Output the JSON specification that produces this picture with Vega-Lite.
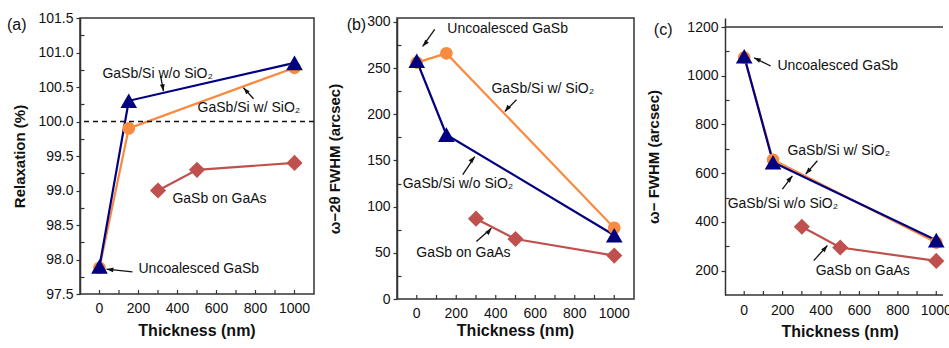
{
  "$schema": "https://vega.github.io/schema/vega-lite/v6.json",
  "background": "white",
  "padding": {"left": 6, "top": 10, "right": 0, "bottom": 0},
  "config": {
    "font": "Liberation Sans",
    "view": {"stroke": null},
    "axis": {
      "labelFont": "Liberation Sans", "labelFontSize": 14, "labelColor": "#111",
      "titleFont": "Liberation Sans", "titleFontSize": 15, "titleFontWeight": "bold", "titleColor": "#111",
      "grid": false, "domainColor": "#333", "domainWidth": 1.5, "tickColor": "#333", "tickWidth": 1.2,
      "labelOverlap": false
    }
  },
  "datasets": {
    "xticks": [
      {"t": 0}, {"t": 100}, {"t": 200}, {"t": 300}, {"t": 400}, {"t": 500},
      {"t": 600}, {"t": 700}, {"t": 800}, {"t": 900}, {"t": 1000}
    ],
    "relax": [
      {"t": 0, "v": 97.88, "s": "GaSb/Si w/ SiO2"}, {"t": 150, "v": 99.9, "s": "GaSb/Si w/ SiO2"}, {"t": 1000, "v": 100.78, "s": "GaSb/Si w/ SiO2"},
      {"t": 0, "v": 97.9, "s": "GaSb/Si w/o SiO2"}, {"t": 150, "v": 100.3, "s": "GaSb/Si w/o SiO2"}, {"t": 1000, "v": 100.85, "s": "GaSb/Si w/o SiO2"},
      {"t": 300, "v": 99.0, "s": "GaSb on GaAs"}, {"t": 500, "v": 99.3, "s": "GaSb on GaAs"}, {"t": 1000, "v": 99.4, "s": "GaSb on GaAs"}
    ],
    "fwhm2t": [
      {"t": 0, "v": 256, "s": "GaSb/Si w/ SiO2"}, {"t": 150, "v": 266, "s": "GaSb/Si w/ SiO2"}, {"t": 1000, "v": 77, "s": "GaSb/Si w/ SiO2"},
      {"t": 0, "v": 258, "s": "GaSb/Si w/o SiO2"}, {"t": 150, "v": 178, "s": "GaSb/Si w/o SiO2"}, {"t": 1000, "v": 69, "s": "GaSb/Si w/o SiO2"},
      {"t": 300, "v": 87, "s": "GaSb on GaAs"}, {"t": 500, "v": 65, "s": "GaSb on GaAs"}, {"t": 1000, "v": 47, "s": "GaSb on GaAs"}
    ],
    "fwhmw": [
      {"t": 0, "v": 1075, "s": "GaSb/Si w/ SiO2"}, {"t": 150, "v": 655, "s": "GaSb/Si w/ SiO2"}, {"t": 1000, "v": 315, "s": "GaSb/Si w/ SiO2"},
      {"t": 0, "v": 1080, "s": "GaSb/Si w/o SiO2"}, {"t": 150, "v": 645, "s": "GaSb/Si w/o SiO2"}, {"t": 1000, "v": 325, "s": "GaSb/Si w/o SiO2"},
      {"t": 300, "v": 380, "s": "GaSb on GaAs"}, {"t": 500, "v": 295, "s": "GaSb on GaAs"}, {"t": 1000, "v": 240, "s": "GaSb on GaAs"}
    ],
    "labelsA": [
      {"t": 15, "v": 100.69, "label": "GaSb/Si w/o SiO₂"},
      {"t": 503, "v": 100.2, "label": "GaSb/Si w/ SiO₂"},
      {"t": 374, "v": 98.88, "label": "GaSb on GaAs"},
      {"t": 200, "v": 97.86, "label": "Uncoalesced GaSb"}
    ],
    "arrowsA": [
      {"t": 313, "v": 100.66, "t2": 328, "v2": 100.44, "head": "d"},
      {"t": 790, "v": 100.33, "t2": 738, "v2": 100.49, "head": "ul"},
      {"t": 169, "v": 97.82, "t2": 36, "v2": 97.86, "head": "l"}
    ],
    "labelsB": [
      {"t": 155, "v": 292, "label": "Uncoalesced GaSb"},
      {"t": 378, "v": 227.4, "label": "GaSb/Si w/ SiO₂"},
      {"t": -71, "v": 124.2, "label": "GaSb/Si w/o SiO₂"},
      {"t": -2, "v": 50.1, "label": "GaSb on GaAs"}
    ],
    "arrowsB": [
      {"t": 91, "v": 292, "t2": 30, "v2": 273.5, "head": "dl"},
      {"t": 505, "v": 215.7, "t2": 446, "v2": 203, "head": "dl"},
      {"t": 233, "v": 134.8, "t2": 294, "v2": 154.3, "head": "ur"},
      {"t": 302, "v": 62.3, "t2": 378, "v2": 76.7, "head": "ur"}
    ],
    "labelsC": [
      {"t": 173, "v": 1040, "label": "Uncoalesced GaSb"},
      {"t": 225, "v": 692, "label": "GaSb/Si w/ SiO₂"},
      {"t": -86, "v": 473, "label": "GaSb/Si w/o SiO₂"},
      {"t": 372, "v": 200, "label": "GaSb on GaAs"}
    ],
    "arrowsC": [
      {"t": 138, "v": 1040, "t2": 51, "v2": 1074, "head": "ul2"},
      {"t": 381, "v": 651, "t2": 320, "v2": 596, "head": "dl"},
      {"t": 199, "v": 535, "t2": 251, "v2": 589, "head": "ur"},
      {"t": 362, "v": 241, "t2": 433, "v2": 303, "head": "ur"}
    ]
  },
  "spacing": 10,
  "hconcat": [
    {
      "width": 234, "height": 276,
      "view": {"stroke": "#333", "strokeWidth": 1.5},
      "title": {"text": "(a)", "anchor": "start", "frame": "bounds", "orient": "top", "offset": -35, "dx": -6, "baseline": "alphabetic", "fontSize": 16, "fontWeight": "normal", "font": "Liberation Sans", "color": "#111"},
      "resolve": {"axis": {"y": "independent"}},
      "layer": [
        {"data": {"name": "relax"}, "mark": {"type": "line", "strokeWidth": 2.2},
         "encoding": {
           "x": {"field": "t", "type": "quantitative", "scale": {"domain": [-100, 1100], "nice": false}, "axis": null},
           "y": {"field": "v", "type": "quantitative", "scale": {"domain": [97.5, 101.5], "nice": false},
                 "axis": {"title": "Relaxation (%)", "orient": "left", "values": [97.5,98,98.5,99,99.5,100,100.5,101,101.5], "format": ".1f", "labelOverlap": false, "tickSize": 4, "labelPadding": 3, "titlePadding": 10}},
           "color": {"field": "s", "type": "nominal", "scale": {"domain": ["GaSb/Si w/ SiO2", "GaSb/Si w/o SiO2", "GaSb on GaAs"], "range": ["#F98B40", "#000080", "#C0504D"]}, "legend": null}
         }},
        {"data": {"name": "relax"}, "mark": {"type": "point", "filled": true, "opacity": 1, "size": 289, "strokeWidth": 0},
         "encoding": {
           "x": {"field": "t", "type": "quantitative", "axis": null},
           "y": {"field": "v", "type": "quantitative",
                 "axis": {"orient": "left", "title": null, "values": [97.75,98.25,98.75,99.25,99.75,100.25,100.75,101.25], "labels": false, "domain": false, "tickSize": -4}},
           "color": {"field": "s", "type": "nominal", "legend": null},
           "shape": {"field": "s", "type": "nominal", "scale": {"domain": ["GaSb/Si w/ SiO2", "GaSb/Si w/o SiO2", "GaSb on GaAs"], "range": ["M-0.74,0A0.74,0.74,0,1,0,0.74,0A0.74,0.74,0,1,0,-0.74,0Z", "M0,-0.86L0.98,0.86L-0.98,0.86Z", "M0,-0.95L0.95,0L0,0.95L-0.95,0Z"]}, "legend": null}
         }},
        {"data": {"values": [{}]}, "mark": {"type": "rule", "strokeDash": [5, 4], "color": "#111", "strokeWidth": 1.5},
         "encoding": {"y": {"datum": 100, "type": "quantitative", "axis": null}}},
        {"data": {"name": "xticks"}, "mark": {"type": "tick", "orient": "vertical", "size": 4, "thickness": 1.2, "color": "#333", "opacity": 1, "yOffset": -2},
         "encoding": {"x": {"field": "t", "type": "quantitative", "axis": null}, "y": {"datum": 97.5, "type": "quantitative", "axis": null}}},
        {"data": {"name": "xticks"}, "transform": [{"filter": "datum.t % 200 === 0"}],
         "mark": {"type": "text", "dy": 15, "fontSize": 14, "font": "Liberation Sans", "color": "#111", "align": "center", "baseline": "middle"},
         "encoding": {"x": {"field": "t", "type": "quantitative", "axis": null}, "y": {"datum": 97.5, "type": "quantitative", "axis": null}, "text": {"field": "t", "type": "quantitative", "format": "d"}}},
        {"data": {"name": "xticks"}, "transform": [{"filter": "datum.t === 500"}],
         "mark": {"type": "text", "text": "Thickness (nm)", "dy": 37, "fontSize": 16, "fontWeight": "bold", "font": "Liberation Sans", "color": "#111", "align": "center", "baseline": "middle"},
         "encoding": {"x": {"field": "t", "type": "quantitative", "axis": null}, "y": {"datum": 97.5, "type": "quantitative", "axis": null}}},
        {"data": {"name": "labelsA"}, "mark": {"type": "text", "align": "left", "baseline": "middle", "fontSize": 14, "font": "Liberation Sans", "color": "#111"},
         "encoding": {
           "x": {"field": "t", "type": "quantitative", "axis": null},
           "y": {"field": "v", "type": "quantitative", "axis": null},
           "text": {"field": "label"}
         }},
        {"data": {"name": "arrowsA"}, "mark": {"type": "rule", "color": "#111", "strokeWidth": 1.3},
         "encoding": {
           "x": {"field": "t", "type": "quantitative", "axis": null},
           "y": {"field": "v", "type": "quantitative", "axis": null},
           "x2": {"field": "t2"}, "y2": {"field": "v2"}
         }},
        {"data": {"name": "arrowsA"}, "transform": [{"filter": "datum.head === 'd'"}],
         "mark": {"type": "point", "filled": true, "opacity": 1, "color": "#111", "size": 110, "strokeWidth": 0, "shape": "M0,0L0.22,-1.36L-0.67,-1.2Z"},
         "encoding": {"x": {"field": "t2", "type": "quantitative", "axis": null}, "y": {"field": "v2", "type": "quantitative", "axis": null}}},
        {"data": {"name": "arrowsA"}, "transform": [{"filter": "datum.head === 'ul'"}],
         "mark": {"type": "point", "filled": true, "opacity": 1, "color": "#111", "size": 110, "strokeWidth": 0, "shape": "M0,0L0.54,1.27L1.2,0.67Z"},
         "encoding": {"x": {"field": "t2", "type": "quantitative", "axis": null}, "y": {"field": "v2", "type": "quantitative", "axis": null}}},
        {"data": {"name": "arrowsA"}, "transform": [{"filter": "datum.head === 'l'"}],
         "mark": {"type": "point", "filled": true, "opacity": 1, "color": "#111", "size": 110, "strokeWidth": 0, "shape": "M0,0L1.25,0.58L1.34,-0.31Z"},
         "encoding": {"x": {"field": "t2", "type": "quantitative", "axis": null}, "y": {"field": "v2", "type": "quantitative", "axis": null}}}
      ]
    },
    {
      "spacing": 11,
      "hconcat": [
        {
          "width": 237, "height": 281,
          "view": {"stroke": "#333", "strokeWidth": 1.5},
          "title": {"text": "(b)", "anchor": "start", "frame": "bounds", "orient": "top", "offset": -31.5, "dx": 19, "baseline": "alphabetic", "fontSize": 16, "fontWeight": "normal", "font": "Liberation Sans", "color": "#111"},
          "resolve": {"axis": {"y": "independent"}},
          "layer": [
            {"data": {"name": "fwhm2t"}, "mark": {"type": "line", "strokeWidth": 2.2},
             "encoding": {
               "x": {"field": "t", "type": "quantitative", "scale": {"domain": [-100, 1100], "nice": false}, "axis": null},
               "y": {"field": "v", "type": "quantitative", "scale": {"domain": [0, 304.3], "nice": false},
                     "axis": {"title": "ω−2θ FWHM (arcsec)", "orient": "left", "values": [0,50,100,150,200,250,300], "format": "d", "labelOverlap": false, "tickSize": 4, "labelPadding": 3, "titlePadding": 24}},
               "color": {"field": "s", "type": "nominal", "scale": {"domain": ["GaSb/Si w/ SiO2", "GaSb/Si w/o SiO2", "GaSb on GaAs"], "range": ["#F98B40", "#000080", "#C0504D"]}, "legend": null}
             }},
            {"data": {"name": "fwhm2t"}, "mark": {"type": "point", "filled": true, "opacity": 1, "size": 289, "strokeWidth": 0},
             "encoding": {
               "x": {"field": "t", "type": "quantitative", "axis": null},
               "y": {"field": "v", "type": "quantitative",
                     "axis": {"orient": "left", "title": null, "values": [25,75,125,175,225,275], "labels": false, "domain": false, "tickSize": -4}},
               "color": {"field": "s", "type": "nominal", "legend": null},
               "shape": {"field": "s", "type": "nominal", "scale": {"domain": ["GaSb/Si w/ SiO2", "GaSb/Si w/o SiO2", "GaSb on GaAs"], "range": ["M-0.74,0A0.74,0.74,0,1,0,0.74,0A0.74,0.74,0,1,0,-0.74,0Z", "M0,-0.86L0.98,0.86L-0.98,0.86Z", "M0,-0.95L0.95,0L0,0.95L-0.95,0Z"]}, "legend": null}
             }},
            {"data": {"name": "xticks"}, "mark": {"type": "tick", "orient": "vertical", "size": 4, "thickness": 1.2, "color": "#333", "opacity": 1, "yOffset": -2},
             "encoding": {"x": {"field": "t", "type": "quantitative", "axis": null}, "y": {"datum": 0, "type": "quantitative", "axis": null}}},
            {"data": {"name": "xticks"}, "transform": [{"filter": "datum.t % 200 === 0"}],
             "mark": {"type": "text", "dy": 15, "fontSize": 14, "font": "Liberation Sans", "color": "#111", "align": "center", "baseline": "middle"},
             "encoding": {"x": {"field": "t", "type": "quantitative", "axis": null}, "y": {"datum": 0, "type": "quantitative", "axis": null}, "text": {"field": "t", "type": "quantitative", "format": "d"}}},
            {"data": {"name": "xticks"}, "transform": [{"filter": "datum.t === 500"}],
             "mark": {"type": "text", "text": "Thickness (nm)", "dy": 32, "fontSize": 16, "fontWeight": "bold", "font": "Liberation Sans", "color": "#111", "align": "center", "baseline": "middle"},
             "encoding": {"x": {"field": "t", "type": "quantitative", "axis": null}, "y": {"datum": 0, "type": "quantitative", "axis": null}}},
            {"data": {"name": "labelsB"}, "mark": {"type": "text", "align": "left", "baseline": "middle", "fontSize": 14, "font": "Liberation Sans", "color": "#111"},
             "encoding": {"x": {"field": "t", "type": "quantitative", "axis": null}, "y": {"field": "v", "type": "quantitative", "axis": null}, "text": {"field": "label"}}},
            {"data": {"name": "arrowsB"}, "mark": {"type": "rule", "color": "#111", "strokeWidth": 1.3},
             "encoding": {"x": {"field": "t", "type": "quantitative", "axis": null}, "y": {"field": "v", "type": "quantitative", "axis": null}, "x2": {"field": "t2"}, "y2": {"field": "v2"}}},
            {"data": {"name": "arrowsB"}, "transform": [{"filter": "datum.head === 'dl'"}],
             "mark": {"type": "point", "filled": true, "opacity": 1, "color": "#111", "size": 110, "strokeWidth": 0, "shape": "M0,0L1.18,-0.71L0.49,-1.29Z"},
             "encoding": {"x": {"field": "t2", "type": "quantitative", "axis": null}, "y": {"field": "v2", "type": "quantitative", "axis": null}}},
            {"data": {"name": "arrowsB"}, "transform": [{"filter": "datum.head === 'ur'"}],
             "mark": {"type": "point", "filled": true, "opacity": 1, "color": "#111", "size": 110, "strokeWidth": 0, "shape": "M0,0L-1.18,0.71L-0.49,1.29Z"},
             "encoding": {"x": {"field": "t2", "type": "quantitative", "axis": null}, "y": {"field": "v2", "type": "quantitative", "axis": null}}}
          ]
        },
        {
          "width": 218, "height": 277,
          "title": {"text": "(c)", "anchor": "start", "frame": "bounds", "orient": "top", "offset": -32.5, "dx": 7, "baseline": "alphabetic", "fontSize": 16, "fontWeight": "normal", "font": "Liberation Sans", "color": "#111"},
          "resolve": {"axis": {"y": "independent"}},
          "layer": [
            {"data": {"name": "fwhmw"}, "mark": {"type": "line", "strokeWidth": 2.2},
             "encoding": {
               "x": {"field": "t", "type": "quantitative", "scale": {"domain": [-100, 1035], "nice": false}, "axis": null},
               "y": {"field": "v", "type": "quantitative", "scale": {"domain": [100, 1237], "nice": false},
                     "axis": {"title": "ω− FWHM (arcsec)", "orient": "left", "values": [200,400,600,800,1000,1200], "format": "d", "labelOverlap": false, "tickSize": 4, "labelPadding": 3, "titlePadding": 25}},
               "color": {"field": "s", "type": "nominal", "scale": {"domain": ["GaSb/Si w/ SiO2", "GaSb/Si w/o SiO2", "GaSb on GaAs"], "range": ["#F98B40", "#000080", "#C0504D"]}, "legend": null}
             }},
            {"data": {"name": "fwhmw"}, "mark": {"type": "point", "filled": true, "opacity": 1, "size": 289, "strokeWidth": 0},
             "encoding": {
               "x": {"field": "t", "type": "quantitative", "axis": null},
               "y": {"field": "v", "type": "quantitative",
                     "axis": {"orient": "left", "title": null, "values": [300,500,700,900,1100], "labels": false, "domain": false, "tickSize": -4}},
               "color": {"field": "s", "type": "nominal", "legend": null},
               "shape": {"field": "s", "type": "nominal", "scale": {"domain": ["GaSb/Si w/ SiO2", "GaSb/Si w/o SiO2", "GaSb on GaAs"], "range": ["M-0.74,0A0.74,0.74,0,1,0,0.74,0A0.74,0.74,0,1,0,-0.74,0Z", "M0,-0.86L0.98,0.86L-0.98,0.86Z", "M0,-0.95L0.95,0L0,0.95L-0.95,0Z"]}, "legend": null}
             }},
            {"data": {"values": [{}]}, "mark": {"type": "rule", "color": "#333", "strokeWidth": 1.5},
             "encoding": {"y": {"datum": 1200, "type": "quantitative", "axis": null}}},
            {"data": {"values": [{}]}, "mark": {"type": "rule", "color": "#333", "strokeWidth": 1.5},
             "encoding": {"y": {"datum": 100, "type": "quantitative", "axis": null}}},
            {"data": {"name": "xticks"}, "mark": {"type": "tick", "orient": "vertical", "size": 4, "thickness": 1.2, "color": "#333", "opacity": 1, "yOffset": -2},
             "encoding": {"x": {"field": "t", "type": "quantitative", "axis": null}, "y": {"datum": 100, "type": "quantitative", "axis": null}}},
            {"data": {"name": "xticks"}, "transform": [{"filter": "datum.t % 200 === 0"}],
             "mark": {"type": "text", "dy": 16, "fontSize": 14, "font": "Liberation Sans", "color": "#111", "align": "center", "baseline": "middle"},
             "encoding": {"x": {"field": "t", "type": "quantitative", "axis": null}, "y": {"datum": 100, "type": "quantitative", "axis": null}, "text": {"field": "t", "type": "quantitative", "format": "d"}}},
            {"data": {"name": "xticks"}, "transform": [{"filter": "datum.t === 500"}],
             "mark": {"type": "text", "text": "Thickness (nm)", "dy": 37, "fontSize": 16, "fontWeight": "bold", "font": "Liberation Sans", "color": "#111", "align": "center", "baseline": "middle"},
             "encoding": {"x": {"field": "t", "type": "quantitative", "axis": null}, "y": {"datum": 100, "type": "quantitative", "axis": null}}},
            {"data": {"name": "labelsC"}, "mark": {"type": "text", "align": "left", "baseline": "middle", "fontSize": 14, "font": "Liberation Sans", "color": "#111"},
             "encoding": {"x": {"field": "t", "type": "quantitative", "axis": null}, "y": {"field": "v", "type": "quantitative", "axis": null}, "text": {"field": "label"}}},
            {"data": {"name": "arrowsC"}, "mark": {"type": "rule", "color": "#111", "strokeWidth": 1.3},
             "encoding": {"x": {"field": "t", "type": "quantitative", "axis": null}, "y": {"field": "v", "type": "quantitative", "axis": null}, "x2": {"field": "t2"}, "y2": {"field": "v2"}}},
            {"data": {"name": "arrowsC"}, "transform": [{"filter": "datum.head === 'ul2'"}],
             "mark": {"type": "point", "filled": true, "opacity": 1, "color": "#111", "size": 110, "strokeWidth": 0, "shape": "M0,0L0.97,0.98L1.37,0.17Z"},
             "encoding": {"x": {"field": "t2", "type": "quantitative", "axis": null}, "y": {"field": "v2", "type": "quantitative", "axis": null}}},
            {"data": {"name": "arrowsC"}, "transform": [{"filter": "datum.head === 'dl'"}],
             "mark": {"type": "point", "filled": true, "opacity": 1, "color": "#111", "size": 110, "strokeWidth": 0, "shape": "M0,0L1.18,-0.71L0.49,-1.29Z"},
             "encoding": {"x": {"field": "t2", "type": "quantitative", "axis": null}, "y": {"field": "v2", "type": "quantitative", "axis": null}}},
            {"data": {"name": "arrowsC"}, "transform": [{"filter": "datum.head === 'ur'"}],
             "mark": {"type": "point", "filled": true, "opacity": 1, "color": "#111", "size": 110, "strokeWidth": 0, "shape": "M0,0L-1.18,0.71L-0.49,1.29Z"},
             "encoding": {"x": {"field": "t2", "type": "quantitative", "axis": null}, "y": {"field": "v2", "type": "quantitative", "axis": null}}}
          ]
        }
      ]
    }
  ]
}
